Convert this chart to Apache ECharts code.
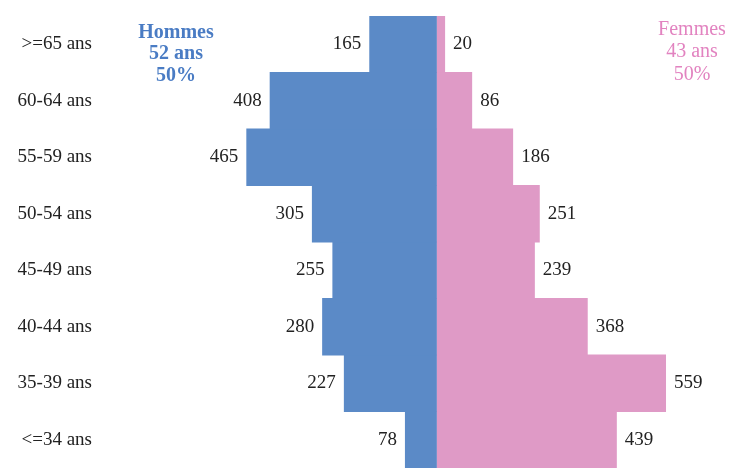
<!DOCTYPE html>
<html>
<head>
<meta charset="utf-8">
<script src="https://cdn.jsdelivr.net/npm/echarts@6/dist/echarts.min.js"></script>
<style>html,body{margin:0;padding:0;background:#fff}#c{width:732px;height:468px}</style>
</head>
<body>
<div id="c"></div>
<script>
const categories = ['<=34 ans', '35-39 ans', '40-44 ans', '45-49 ans', '50-54 ans', '55-59 ans', '60-64 ans', '>=65 ans'];
const hommes = [78, 227, 280, 255, 305, 465, 408, 165];
const femmes = [439, 559, 368, 239, 251, 186, 86, 20];
const hommesTitle = ['Hommes', '52 ans', '50%'];
const femmesTitle = ['Femmes', '43 ans', '50%'];

const FONT = '"Liberation Serif", "DejaVu Serif", serif';
const chart = echarts.init(document.getElementById('c'), null, {renderer: 'canvas'});
chart.setOption({
  animation: false,
  backgroundColor: '#fff',
  grid: {left: 100, right: 0, top: 16, bottom: -4, containLabel: false},
  xAxis: {type: 'value', min: -822, max: 720, show: false, splitLine: {show: false}},
  yAxis: {
    type: 'category', data: categories,
    axisLine: {show: false, onZero: false}, axisTick: {show: false}, splitLine: {show: false},
    axisLabel: {margin: 8, color: '#222', fontFamily: FONT, fontSize: 19}
  },
  graphic: [
    {type: 'text', x: 176, y: 22, style: {text: hommesTitle.join('\n'), textAlign: 'center', textVerticalAlign: 'top', fill: '#4a7cc4', font: 'bold 20px ' + FONT, lineHeight: 21.5}},
    {type: 'text', x: 692, y: 18, style: {text: femmesTitle.join('\n'), textAlign: 'center', textVerticalAlign: 'top', fill: '#e283c0', font: '20px ' + FONT, lineHeight: 22.5}}
  ],
  series: [
    {
      type: 'bar', stack: 'p', barWidth: '101.5%', barGap: '-100%',
      data: hommes.map(v => -v),
      itemStyle: {color: '#5b8ac7'},
      label: {show: true, position: 'left', distance: 8, color: '#222', fontFamily: FONT, fontSize: 19, formatter: p => Math.abs(p.value)}
    },
    {
      type: 'bar', stack: 'p', barWidth: '101.5%',
      data: femmes,
      itemStyle: {color: '#df9ac6'},
      label: {show: true, position: 'right', distance: 8, color: '#222', fontFamily: FONT, fontSize: 19}
    }
  ]
});
</script>
</body>
</html>
